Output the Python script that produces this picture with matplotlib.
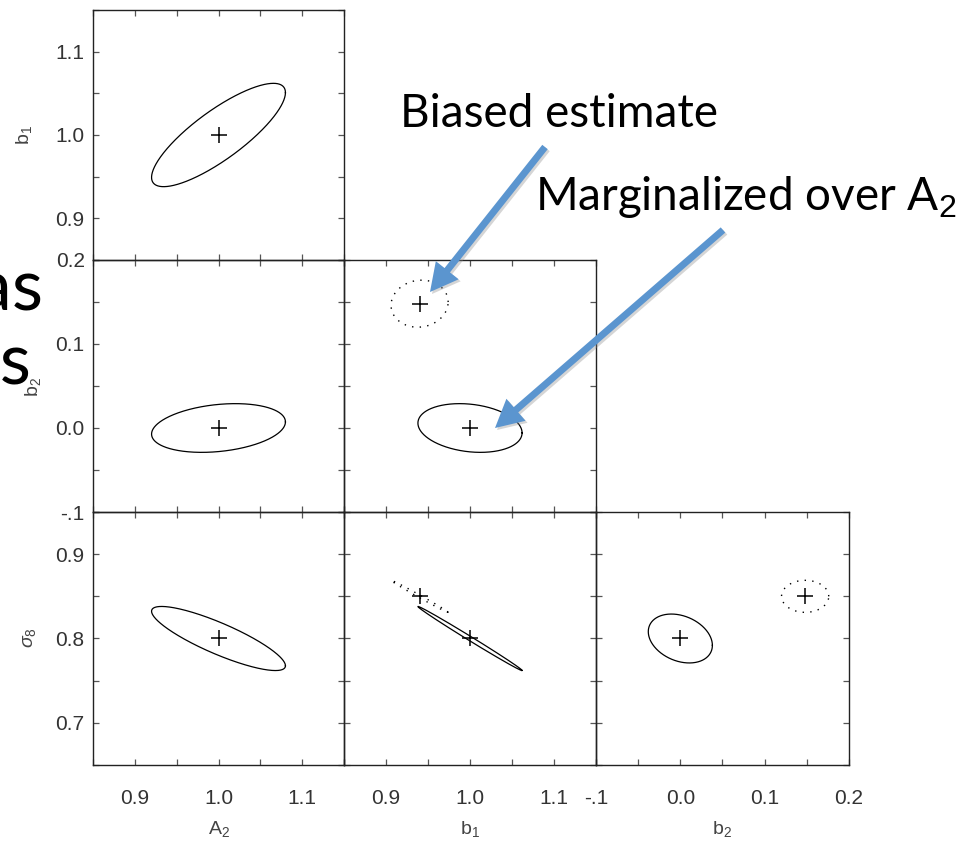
import numpy as np
import matplotlib
matplotlib.use('Agg')
import matplotlib.pyplot as plt
from matplotlib.ticker import MultipleLocator, FuncFormatter
from matplotlib.patches import FancyArrowPatch

plt.rcParams['mathtext.fontset'] = 'custom'
plt.rcParams['mathtext.rm'] = 'Liberation Sans'
plt.rcParams['mathtext.it'] = 'Liberation Sans:italic'

W, H, DPI = 970, 841, 100

# ---------------- data ----------------
x_params = ['A2', 'b1', 'b2']          # columns
y_params = ['b1', 'b2', 'sigma8']      # rows
param_labels = {'A2': r'A$_2$', 'b1': r'b$_1$', 'b2': r'b$_2$', 'sigma8': r'$\sigma_8$'}
param_ranges = {'A2': (0.85, 1.15), 'b1': (0.85, 1.15), 'b2': (-0.1, 0.2), 'sigma8': (0.65, 0.95)}

fiducial = {'A2': 1.0, 'b1': 1.0, 'b2': 0.0, 'sigma8': 0.8}
biased = {'b1': 0.94, 'b2': 0.148, 'sigma8': 0.85}

# solid (marginalized) ellipses: x param, y param, half-extent x, half-extent y, correlation
solid_x = ['A2', 'A2', 'A2', 'b1', 'b1', 'b2']
solid_y = ['b1', 'b2', 'sigma8', 'b2', 'sigma8', 'sigma8']
solid_hx = [0.080, 0.080, 0.080, 0.062, 0.062, 0.038]
solid_hy = [0.062, 0.029, 0.038, 0.029, 0.038, 0.029]
solid_rho = [0.82, 0.25, -0.85, -0.20, -0.997, -0.28]

# dotted (biased) ellipses
dot_x = ['b1', 'b1', 'b2']
dot_y = ['b2', 'sigma8', 'sigma8']
dot_hx = [0.034, 0.034, 0.028]
dot_hy = [0.028, 0.019, 0.019]
dot_rho = [0.07, -0.996, 0.0]

# ---------------- layout ----------------
col_px = [(93, 344), (344, 596), (596, 849)]
row_px = [(10, 260), (260, 512), (512, 765)]

fig = plt.figure(figsize=(W / DPI, H / DPI), dpi=DPI)
fig.patch.set_facecolor('white')

TICK_FONT = 'Liberation Sans'


def fmt(v, pos):
    v = round(v, 6)
    if abs(v) < 1e-9:
        return '0.0'
    s = f'{v:.1f}'
    if s.startswith('-0.'):
        s = '-' + s[2:]
    return s


def ellipse_curve(cx, cy, hx, hy, rho):
    t = np.linspace(0, 2 * np.pi, 721)
    x = cx + hx * np.cos(t)
    y = cy + hy * (rho * np.cos(t) + np.sqrt(1 - rho ** 2) * np.sin(t))
    return x, y


axes = {}
for i, yp in enumerate(y_params):
    for j, xp in enumerate(x_params):
        if j > i:
            continue
        x0, x1 = col_px[j]
        y0, y1 = row_px[i]
        ax = fig.add_axes([x0 / W, 1 - y1 / H, (x1 - x0) / W, (y1 - y0) / H])
        ax.set_xlim(*param_ranges[xp])
        ax.set_ylim(*param_ranges[yp])
        for s in ax.spines.values():
            s.set_color('#222222')
            s.set_linewidth(1.0)
        ax.xaxis.set_major_locator(MultipleLocator(0.1))
        ax.xaxis.set_minor_locator(MultipleLocator(0.05))
        ax.yaxis.set_major_locator(MultipleLocator(0.1))
        ax.yaxis.set_minor_locator(MultipleLocator(0.05))
        ax.tick_params(which='both', direction='in', top=True, right=True,
                       length=4, width=0.9, color='#555555')
        ax.tick_params(axis='x', which='major', pad=17)
        ax.tick_params(axis='y', which='major', pad=6)
        ax.xaxis.set_major_formatter(FuncFormatter(fmt))
        ax.yaxis.set_major_formatter(FuncFormatter(fmt))
        ax.tick_params(labelbottom=(i == 2), labelleft=(j == 0),
                       labelsize=15, labelcolor='#333333')
        for lab in ax.get_xticklabels() + ax.get_yticklabels():
            lab.set_fontfamily(TICK_FONT)
        ax.set_facecolor('none')
        axes[(xp, yp)] = ax

# solid ellipses with fiducial crosses
for xp, yp, hx, hy, r in zip(solid_x, solid_y, solid_hx, solid_hy, solid_rho):
    ax = axes[(xp, yp)]
    ex, ey = ellipse_curve(fiducial[xp], fiducial[yp], hx, hy, r)
    ax.plot(ex, ey, color='black', lw=0.9)
    ax.plot(fiducial[xp], fiducial[yp], marker='+', ms=11, mew=1.1, color='black')

# dotted ellipses with biased crosses
for xp, yp, hx, hy, r in zip(dot_x, dot_y, dot_hx, dot_hy, dot_rho):
    ax = axes[(xp, yp)]
    ex, ey = ellipse_curve(biased[xp], biased[yp], hx, hy, r)
    ax.plot(ex, ey, color='black', lw=1.0, linestyle=(0, (1.0, 4.5)))
    ax.plot(biased[xp], biased[yp], marker='+', ms=11, mew=1.1, color='black')

# axis labels
ylab_x = [24, 33, 30]
ylab_pos = [135, 387, 638]
for yp, xpx, ypx in zip(y_params, ylab_x, ylab_pos):
    fig.text(xpx / W, 1 - ypx / H, param_labels[yp], rotation=90, ha='center', va='center',
             fontsize=14, color='#444444', family=TICK_FONT)
xlab_pos = [219, 470, 722]
for xp, xpx in zip(x_params, xlab_pos):
    fig.text(xpx / W, 1 - 829 / H, param_labels[xp], ha='center', va='center',
             fontsize=14, color='#444444', family=TICK_FONT)

# slide text
SLIDE = ['Lato', 'DejaVu Sans']
fig.text(44 / W, 1 - 310 / H, 'bias', ha='right', va='baseline', fontsize=52,
         family=SLIDE, color='black', zorder=10)
fig.text(32 / W, 1 - 384 / H, 'parameters', ha='right', va='baseline', fontsize=52,
         family=SLIDE, color='black', zorder=10)
fig.text(400 / W, 1 - 127 / H, 'Biased estimate', ha='left', va='baseline', fontsize=33,
         family=SLIDE, color='black')
fig.text(535 / W, 1 - 210 / H, r'Marginalized over A$_2$', ha='left', va='baseline', fontsize=33,
         family=SLIDE, color='black', math_fontfamily='custom')

# arrows
ARROW_COLOR = '#5B95CF'
arrows = [((545, 147), (430, 292)), ((723, 230), (495, 428))]
for (xa, ya), (xb, yb) in arrows:
    for dx, dy, col, al in [(2, 2, '#888888', 0.35), (0, 0, ARROW_COLOR, 1.0)]:
        p = FancyArrowPatch(((xa + dx) / W, 1 - (ya + dy) / H), ((xb + dx) / W, 1 - (yb + dy) / H),
                            transform=fig.transFigure,
                            arrowstyle='simple,head_length=20,head_width=21,tail_width=5',
                            mutation_scale=1, shrinkA=0, shrinkB=0,
                            color=col, alpha=al, lw=0, zorder=20)
        fig.add_artist(p)

fig.savefig('out.png', dpi=DPI, facecolor='white')
